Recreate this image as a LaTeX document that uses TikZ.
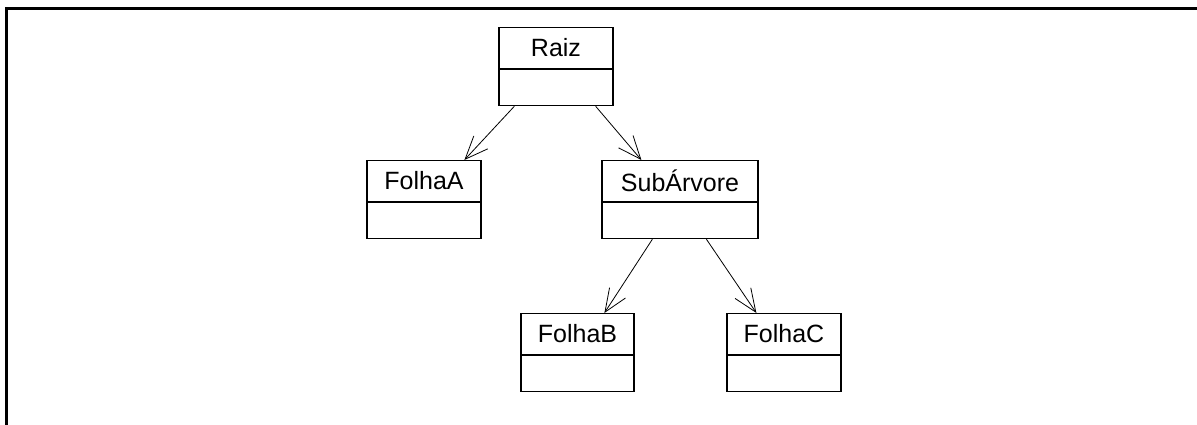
\documentclass[tikz,border=0pt]{standalone}
\usepackage{fontspec}
\setmainfont{Liberation Sans}
\usetikzlibrary{arrows.meta,calc}

% UML class box: name, centre x, top y, width, label
\newcommand\umlclass[5]{%
  \node[cbox, minimum width=#4, anchor=north] (#1) at (#2,#3) {};
  \node[ctext] (#1-label) at (#2,#3+21) {#5};
  \draw[cbox line] ($(#1.north west)+(0,42)$) -- ($(#1.north east)+(0,42)$);
}

\begin{document}
\begin{tikzpicture}[x=1pt, y=-1pt,
  cbox/.style={draw, line width=1.2pt, inner sep=0pt, minimum height=78pt, fill=white},
  cbox line/.style={line width=1.2pt},
  ctext/.style={inner sep=0pt, font=\fontsize{25}{30}\selectfont},
  assoc/.style={line width=0.8pt, -{Straight Barb[length=23pt, width=19pt, line width=0.8pt]}},
  frame/.style={line width=2.3pt}]
  \useasboundingbox (0,0) rectangle (1197,425);

  % open frame (top and left edges only)
  \coordinate (frame-bl) at (6.5,425);
  \coordinate (frame-tl) at (6.5,8.5);
  \coordinate (frame-tr) at (1197,8.5);
  \draw[frame] (frame-bl) -- (frame-tl) -- (frame-tr);

  \umlclass{raiz}{556}{27}{114}{Raiz}
  \umlclass{folhaA}{424}{160}{114}{FolhaA}
  \umlclass{sub}{680}{160}{156}{SubÁrvore}
  \umlclass{folhaB}{577.5}{313}{113}{FolhaB}
  \umlclass{folhaC}{784}{313}{114}{FolhaC}

  \draw[assoc] ($(raiz.south west)+(16,0)$) -- ($(folhaA.north west)+(98,0)$);
  \draw[assoc] ($(raiz.south east)+(-18,0)$) -- ($(sub.north west)+(40,0)$);
  \draw[assoc] ($(sub.south west)+(51,0)$) -- ($(folhaB.north west)+(84,0)$);
  \draw[assoc] ($(sub.south west)+(105,0)$) -- ($(folhaC.north west)+(30,0)$);
\end{tikzpicture}
\end{document}
